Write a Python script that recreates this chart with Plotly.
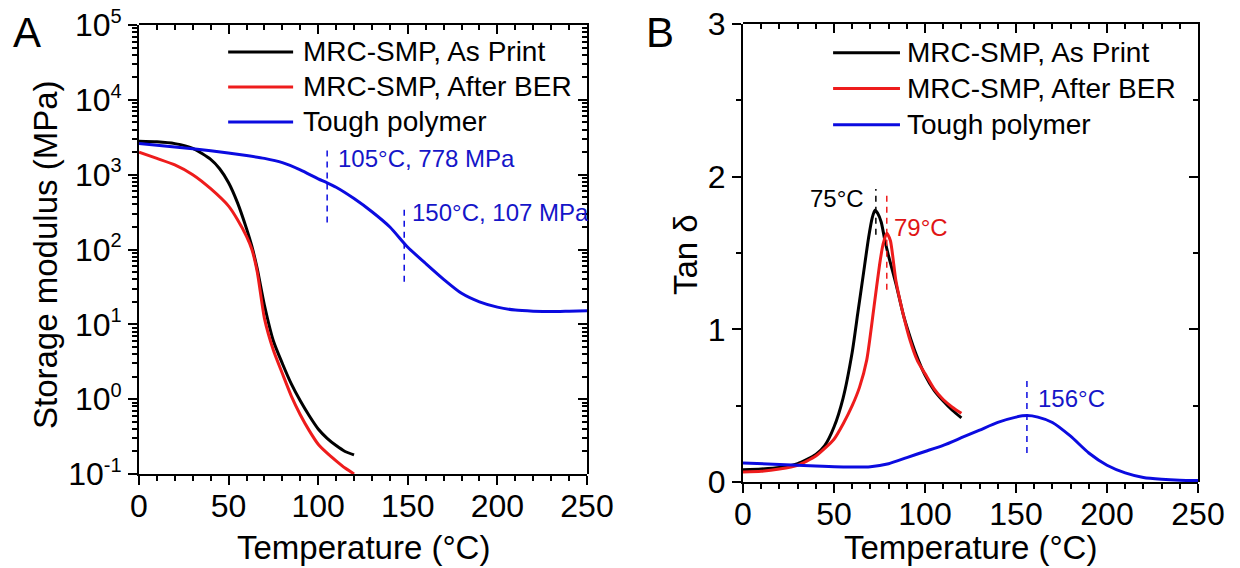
import math
import plotly.graph_objects as go

# ---------------- data ----------------
# Panel A: storage modulus (MPa) vs temperature (°C)
T_print_E = [0, 10, 20, 30, 40, 45, 50, 55, 60, 63, 66, 70, 75, 80, 85, 90, 95, 100, 105, 110, 115, 120]
E_print = [2800, 2750, 2600, 2250, 1600, 1200, 780, 420, 190, 110, 55, 18, 6.0, 3.0, 1.6, 0.95, 0.6, 0.4, 0.3, 0.24, 0.2, 0.18]

T_ber_E = [0, 10, 20, 30, 40, 50, 55, 60, 63, 66, 70, 75, 80, 85, 90, 95, 100, 105, 110, 115, 120]
E_ber = [2000, 1650, 1350, 1000, 650, 380, 250, 150, 100, 50, 12, 4.5, 2.2, 1.1, 0.62, 0.38, 0.25, 0.19, 0.15, 0.12, 0.1]

T_tough_E = [0, 20, 40, 60, 70, 80, 90, 100, 105, 110, 120, 130, 140, 150, 160, 170, 180, 190, 200, 210, 220, 230, 240, 250]
E_tough = [2600, 2350, 2080, 1800, 1650, 1450, 1160, 880, 778, 680, 480, 320, 200, 107, 65, 40, 26, 20, 17, 15.5, 15, 14.8, 15, 15.2]

# Panel B: tan delta vs temperature (°C)
T_print_tan = [0, 10, 20, 30, 40, 45, 50, 55, 60, 63, 66, 69, 71, 72.5, 74, 76, 78, 80, 84, 88, 91, 95, 100, 105, 110, 115, 120]
tan_print = [0.08, 0.085, 0.095, 0.12, 0.18, 0.24, 0.36, 0.55, 0.85, 1.1, 1.35, 1.6, 1.73, 1.78, 1.76, 1.70, 1.58, 1.48, 1.30, 1.10, 0.98, 0.84, 0.70, 0.60, 0.53, 0.47, 0.42]

T_ber_tan = [0, 10, 20, 30, 40, 50, 55, 60, 64, 68, 72, 75, 77, 79, 81, 84, 88, 92, 96, 100, 105, 110, 115, 120]
tan_ber = [0.065, 0.07, 0.085, 0.11, 0.17, 0.28, 0.38, 0.50, 0.62, 0.80, 1.15, 1.42, 1.56, 1.63, 1.58, 1.32, 1.10, 0.92, 0.79, 0.71, 0.61, 0.54, 0.49, 0.45]

T_tough_tan = [0, 20, 40, 60, 70, 80, 90, 100, 110, 120, 130, 140, 150, 156, 162, 170, 180, 190, 200, 210, 220, 230, 240, 250]
tan_tough = [0.125, 0.115, 0.105, 0.098, 0.10, 0.12, 0.16, 0.20, 0.24, 0.29, 0.34, 0.39, 0.425, 0.435, 0.425, 0.39, 0.30, 0.19, 0.11, 0.06, 0.03, 0.018, 0.012, 0.01]

series_names = ["MRC-SMP, As Print", "MRC-SMP, After BER", "Tough polymer"]

# marker lines (temperature, low, high) and labels
markA_T = [105, 148]
markA_lo = [229, 37]
markA_hi = [2140, 360]
markA_text = ["105°C, 778 MPa", "150°C, 107 MPa"]
markA_text_T = [110, 151]
markA_text_E = [1660, 309]

markB_T = [73, 79, 156]
markB_lo = [1.62, 1.26, 0.19]
markB_hi = [1.92, 1.90, 0.665]
markB_text = ["75°C", "79°C", "156°C"]
markB_text_T = [67.5, 82, 161]
markB_text_tan = [1.86, 1.67, 0.55]

x_ticks = [0, 50, 100, 150, 200, 250]
yA_ticks = [0.1, 1, 10, 100, 1000, 10000, 100000]
yA_exponents = ["-1", "0", "1", "2", "3", "4", "5"]
yB_ticks = [0, 1, 2, 3]

# ---------------- style ----------------
BLACK = "#000000"
RED = "#ee1c1c"
BLUE = "#0b0be0"
TXT_BLUE = "#1515c8"
TXT_RED = "#e01515"
colors = [BLACK, RED, BLUE]
FONT = "Arial, Liberation Sans, sans-serif"
W, H = 1240, 568
OFF = 8  # page body margin in the browser

yA_ticktext = ["10<sup><span style='font-size:20px'>%s</span></sup>" % e for e in yA_exponents]

# pixel layout of the plot areas (screen pixels)
A_x0, A_x1, A_y0, A_y1 = 139, 587, 25, 474
B_x0, B_x1, B_y0, B_y1 = 743, 1198, 24, 482

def px(x):
    return (x - OFF) / W

def py(y):
    return 1 - (y - OFF) / H

def xdom(a, b):
    return [px(a), px(b)]

def ydom(top, bottom):
    return [py(bottom), py(top)]

fig = go.Figure()

# Panel A curves
for Tv, Ev, c, n in zip([T_print_E, T_ber_E, T_tough_E], [E_print, E_ber, E_tough], colors, series_names):
    fig.add_trace(go.Scatter(x=Tv, y=Ev, mode="lines", name=n, showlegend=False,
                             line=dict(color=c, width=3, shape="spline", smoothing=0.6),
                             xaxis="x", yaxis="y"))
# Panel B curves
for Tv, tv, c, n in zip([T_print_tan, T_ber_tan, T_tough_tan], [tan_print, tan_ber, tan_tough], colors, series_names):
    fig.add_trace(go.Scatter(x=Tv, y=tv, mode="lines", name=n, showlegend=False,
                             line=dict(color=c, width=3, shape="spline", smoothing=0.6),
                             xaxis="x2", yaxis="y2"))

# dashed marker lines
for t, lo, hi in zip(markA_T, markA_lo, markA_hi):
    fig.add_trace(go.Scatter(x=[t, t], y=[lo, hi], mode="lines", showlegend=False,
                             line=dict(color=BLUE, width=1.5, dash="6px,5px"), xaxis="x", yaxis="y"))
for t, lo, hi, c in zip(markB_T, markB_lo, markB_hi, [BLACK, RED, BLUE]):
    fig.add_trace(go.Scatter(x=[t, t], y=[lo, hi], mode="lines", showlegend=False,
                             line=dict(color=c, width=1.5, dash="6px,5px"), xaxis="x2", yaxis="y2"))

# invisible traces that activate the mirror frame subplots (top / right axes)
for xa, ya in [("x3", "y3"), ("x4", "y4")]:
    fig.add_trace(go.Scatter(x=[100], y=[1], xaxis=xa, yaxis=ya, mode="markers",
                             marker=dict(opacity=0, size=1), hoverinfo="skip", showlegend=False))

annotations = []
for txt, t, e in zip(markA_text, markA_text_T, markA_text_E):
    annotations.append(dict(x=t, y=math.log10(e), xref="x", yref="y", text=txt,
                            showarrow=False, xanchor="left", yanchor="middle",
                            font=dict(family=FONT, size=24, color=TXT_BLUE)))
for txt, t, v, c, xa in zip(markB_text, markB_text_T, markB_text_tan, [BLACK, TXT_RED, TXT_BLUE],
                            ["right", "left", "left"]):
    annotations.append(dict(x=t, y=v, xref="x2", yref="y2", text=txt, showarrow=False,
                            xanchor=xa, yanchor="middle",
                            font=dict(family=FONT, size=24, color=c)))

# legends (drawn per panel)
shapes = []
legA_rows = [0.94, 0.862, 0.784]
legB_rows = [0.937, 0.859, 0.780]
for (xr, yr, rows, x0, x1, xt) in [("x domain", "y domain", legA_rows, 0.199, 0.344, 0.362),
                                    ("x2 domain", "y2 domain", legB_rows, 0.198, 0.345, 0.355)]:
    for yrow, c, n in zip(rows, colors, series_names):
        shapes.append(dict(type="line", xref=xr, yref=yr, x0=x0, x1=x1, y0=yrow, y1=yrow,
                           line=dict(color=c, width=3)))
        annotations.append(dict(x=xt, y=yrow, xref=xr, yref=yr, text=n, showarrow=False,
                                xanchor="left", yanchor="middle",
                                font=dict(family=FONT, size=28, color="black")))

# axis titles and panel letters
def label(x, y, text, size, angle=0, yanchor="middle"):
    return dict(x=px(x), y=py(y), xref="paper", yref="paper", text=text, textangle=angle,
                showarrow=False, font=dict(family=FONT, size=size, color="black"),
                xanchor="center", yanchor=yanchor, borderpad=0)

annotations += [
    label(45, 255, "Storage modulus (MPa)", 33, -90),
    label(685, 255, "Tan δ", 33, -90),
    label(363, 547, "Temperature (°C)", 33),
    label(970, 547, "Temperature (°C)", 33),
    label(27, OFF, "A", 42, yanchor="top"),
    label(660, OFF, "B", 42, yanchor="top"),
]

tickfont = dict(family=FONT, size=32, color="black")
minorA = [m * 10 ** d for d in range(-1, 5) for m in range(2, 10)]

common = dict(showgrid=False, zeroline=False, automargin=False, showline=True,
              linecolor="black", linewidth=2, tickcolor="black", tickwidth=2, ticklen=9,
              ticklabeloverflow="allow")
xcommon = dict(range=[0, 250], tickvals=x_ticks, **common)

def minor(kind, **kw):
    return dict(ticks=kind, ticklen=5, tickwidth=1.5, tickcolor="black", **kw)

fig.update_layout(
    width=W, height=H, margin=dict(l=0, r=0, t=0, b=0, autoexpand=False),
    paper_bgcolor="white", plot_bgcolor="rgba(0,0,0,0)", showlegend=False,
    font=dict(family=FONT, color="black"),
    # Panel A
    xaxis=dict(**xcommon, domain=xdom(A_x0, A_x1), anchor="y", ticks="outside",
               tickfont=tickfont, ticklabelstandoff=-6, minor=minor("outside", dtick=10)),
    yaxis=dict(type="log", range=[-1, 5], domain=ydom(A_y0, A_y1), anchor="x",
               tickvals=yA_ticks, ticktext=yA_ticktext, tickfont=tickfont, ticks="outside",
               minor=minor("outside", tickvals=minorA), **common),
    xaxis3=dict(**xcommon, domain=xdom(A_x0, A_x1), anchor="y3", side="top",
                ticks="inside", showticklabels=False, minor=minor("inside", dtick=10)),
    yaxis3=dict(type="log", range=[-1, 5], domain=ydom(A_y0, A_y1), anchor="x3", side="right",
                tickvals=yA_ticks, showticklabels=False, ticks="inside",
                minor=minor("inside", tickvals=minorA), **common),
    # Panel B
    xaxis2=dict(**xcommon, domain=xdom(B_x0, B_x1), anchor="y2", ticks="outside",
                tickfont=tickfont, ticklabelstandoff=-6, minor=minor("outside", dtick=10)),
    yaxis2=dict(range=[0, 3], domain=ydom(B_y0, B_y1), anchor="x2", tickvals=yB_ticks,
                tickfont=tickfont, ticks="outside", minor=minor("outside", dtick=0.5), **common),
    xaxis4=dict(**xcommon, domain=xdom(B_x0, B_x1), anchor="y4", side="top",
                ticks="inside", showticklabels=False, minor=minor("inside", dtick=10)),
    yaxis4=dict(range=[0, 3], domain=ydom(B_y0, B_y1), anchor="x4", side="right",
                tickvals=yB_ticks, showticklabels=False, ticks="inside",
                minor=minor("inside", dtick=0.5), **common),
    annotations=annotations, shapes=shapes,
)

fig.write_html("out.html")
